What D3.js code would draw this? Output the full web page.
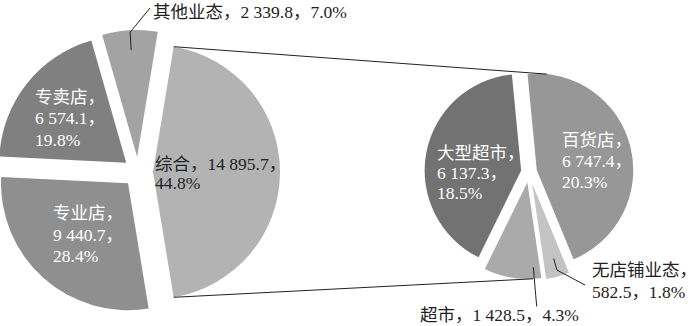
<!DOCTYPE html>
<html>
<head>
<meta charset="utf-8">
<script src="https://cdn.jsdelivr.net/npm/d3@7"></script>
<style>
  body { margin: 0; background: #fff; }
  text { font-family: "Liberation Serif", "Noto Sans CJK SC", serif; font-size: 17.5px; }
</style>
</head>
<body>
<svg id="chart" width="697" height="326"></svg>
<script>
// data
var mainCats = ['综合', '专业店', '专卖店', '其他业态'];
var mainVals = [14895.7, 9440.7, 6574.1, 2339.8];
var mainPcts = ['44.8%', '28.4%', '19.8%', '7.0%'];
var subCats = ['百货店', '无店铺业态', '超市', '大型超市'];
var subVals = [6747.4, 582.5, 1428.5, 6137.3];
var subPcts = ['20.3%', '1.8%', '4.3%', '18.5%'];

var mainColors = ['#b3b3b3', '#8f8f8f', '#808080', '#a3a3a3'];
var subColors = ['#979797', '#c3c3c3', '#aaaaaa', '#727272'];

var rad = Math.PI / 180;
var fmt = d3.formatLocale({decimal: '.', thousands: ' ', grouping: [3], currency: ['', '']}).format(',.1f');

var svg = d3.select('#chart');

// pie settings
var mainPie = {cx: 138, cy: 172, r: 127, start: 9.36, explode: [15, 15, 15, 15]};
var subPie = {cx: 529, cy: 172, r: 96.5, start: -5.5, explode: [8, 12, 10.6, 8]};

// label layout: split = how the text is broken into lines
var mainLabels = [
  {x: 155, y: 164, lh: 18.5, split: 'name+num|pct', fill: '#222'},
  {x: 53, y: 213, lh: 21.7, split: 'name|num|pct', fill: '#fff'},
  {x: 35, y: 96.7, lh: 21.7, split: 'name|num|pct', fill: '#fff'},
  {x: 153, y: 11.7, lh: 0, split: 'all', fill: '#222',
   leader: {a: 356.8, r: [107, 125], to: [[150, 8]]}}
];
var subLabels = [
  {x: 562, y: 140, lh: 21, split: 'name|num|pct', fill: '#fff'},
  {x: 592, y: 270, lh: 21.7, split: 'name|num+pct', fill: '#222',
   leader: {a: 164, r: [78, 90], to: [[585, 285]]}},
  {x: 420, y: 315, lh: 0, split: 'all', fill: '#222',
   leader: {a: 176, r: [85], to: [[536.7, 306.5]]}},
  {x: 437, y: 152.7, lh: 20.3, split: 'name|num|pct', fill: '#fff'}
];

function labelLines(name, v, pct, split) {
  var n = fmt(v);
  if (split === 'all') return [name + '，' + n + '，' + pct];
  if (split === 'name+num|pct') return [name + '，' + n + '，', pct];
  if (split === 'name|num+pct') return [name + '，', n + '，' + pct];
  return [name + '，', n + '，', pct];
}

function drawPie(cfg, cats, vals, pcts, colors, labels) {
  var pie = d3.pie().sort(null).value(function(d) { return d; })
    .startAngle(cfg.start * rad).endAngle(cfg.start * rad + 2 * Math.PI);
  var arcs = pie(vals);
  var arc = d3.arc().innerRadius(0).outerRadius(cfg.r);

  // apex of each exploded slice
  arcs.forEach(function(d, i) {
    var mid = (d.startAngle + d.endAngle) / 2;
    d.ox = cfg.cx + cfg.explode[i] * Math.sin(mid);
    d.oy = cfg.cy - cfg.explode[i] * Math.cos(mid);
  });

  var g = svg.append('g');
  g.selectAll('.slice')
    .data(arcs)
    .enter().append('path')
    .attr('class', 'slice')
    .attr('transform', function(d) { return 'translate(' + d.ox + ',' + d.oy + ')'; })
    .attr('d', arc)
    .attr('fill', function(d, i) { return colors[i]; });

  var polar = function(d, a, r) {
    return [d.ox + r * Math.sin(a * rad), d.oy - r * Math.cos(a * rad)];
  };

  arcs.forEach(function(d, i) {
    var lb = labels[i];
    if (lb.leader) {
      var pts = lb.leader.r.map(function(r) { return polar(d, lb.leader.a, r); }).concat(lb.leader.to);
      g.append('path')
        .attr('d', d3.line()(pts))
        .attr('fill', 'none')
        .attr('stroke', '#222')
        .attr('stroke-width', 1);
    }
    var t = g.append('text')
      .attr('fill', lb.fill)
      .attr('dominant-baseline', 'central');
    labelLines(cats[i], vals[i], pcts[i], lb.split).forEach(function(line, k) {
      t.append('tspan').attr('x', lb.x).attr('y', lb.y + k * lb.lh).text(line);
    });
  });
  arcs.polar = polar;
  return arcs;
}

var mainArcs = drawPie(mainPie, mainCats, mainVals, mainPcts, mainColors, mainLabels);
var subArcs = drawPie(subPie, subCats, subVals, subPcts, subColors, subLabels);

// connector lines from the 综合 slice to the secondary pie
var zh = mainArcs[0];
var topStart = mainArcs.polar(zh, zh.startAngle / rad, mainPie.r);
var botStart = mainArcs.polar(zh, zh.endAngle / rad, mainPie.r);
var topEnd = subArcs.polar(subArcs[0], 6, subPie.r);
var botEnd = subArcs.polar(subArcs[2], 176.6, subPie.r);

svg.append('g').selectAll('line')
  .data([[topStart, topEnd], [botStart, botEnd]])
  .enter().append('line')
  .attr('x1', function(d) { return d[0][0]; })
  .attr('y1', function(d) { return d[0][1]; })
  .attr('x2', function(d) { return d[1][0]; })
  .attr('y2', function(d) { return d[1][1]; })
  .attr('stroke', '#222')
  .attr('stroke-width', 1);
</script>
</body>
</html>
